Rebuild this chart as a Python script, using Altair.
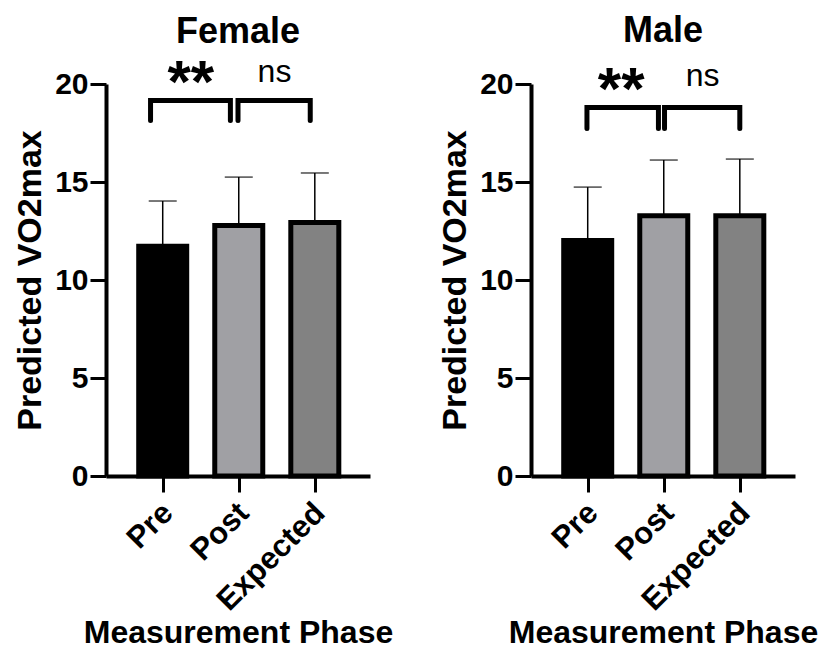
import altair as alt
import pandas as pd

FONT = "Liberation Sans"

phases = ["Pre", "Post", "Expected"]
fills = ["#000000", "#a0a0a4", "#828282"]

female_mean = [11.72, 12.78, 12.93]
female_sd = [2.31, 2.47, 2.53]
male_mean = [12.02, 13.28, 13.28]
male_sd = [2.72, 2.84, 2.89]

sig_labels = ["**", "ns"]

female_brackets = [[-0.16, 0.89], [0.99, 1.94]]
female_bracket_top = 19.16
female_bracket_low = 18.14
female_label_x = [0.37, 1.47]
female_label_y = [19.08, 20.1]

male_brackets = [[-0.01, 0.93], [1.01, 2.0]]
male_bracket_top = 18.80
male_bracket_low = 17.73
male_label_x = [0.44, 1.51]
male_label_y = [18.72, 19.88]

label_expr = "[" + ",".join("'%s'" % p for p in phases) + "][datum.value]"


def xenc(field):
    return alt.X(
        field + ":Q",
        scale=alt.Scale(domain=[-0.68, 2.66], nice=False, zero=False),
        axis=alt.Axis(values=[0, 1, 2], labelExpr=label_expr, labelAngle=-45,
                      labelAlign="right", labelBaseline="middle", labelPadding=16,
                      labelOffset=5, labelFontSize=31,
                      title="Measurement Phase", titlePadding=1, labelOverlap=False,
                      labelFlush=False),
    )


def yenc(field):
    return alt.Y(
        field + ":Q",
        scale=alt.Scale(domain=[0, 20], nice=False),
        axis=alt.Axis(values=[0, 5, 10, 15, 20], format="d", title="Predicted VO2max",
                      titleFontSize=34, titlePadding=7, labelFlush=False,
                      labelFontSize=30),
    )


def panel(title, mean, sd, brackets, top, low, lab_x, lab_y, offset):
    df = pd.DataFrame({
        "idx": list(range(len(phases))),
        "phase": phases,
        "mean": mean,
        "upper": [m + s for m, s in zip(mean, sd)],
        "fill": fills,
    })
    rows = []
    for b, (x1, x2) in enumerate(brackets):
        pts = [(x1, low), (x1, top), (x2, top), (x2, low)]
        for o, (px, py) in enumerate(pts):
            rows.append({"b": b, "o": o, "bx": px, "by": py})
    bdf = pd.DataFrame(rows)
    ldf = pd.DataFrame({"lx": lab_x, "ly": lab_y, "txt": sig_labels})

    err = alt.Chart(df).mark_rule(color="black", strokeWidth=1.5).encode(
        x=xenc("idx"), y=yenc("mean"), y2="upper:Q")
    cap = alt.Chart(df).mark_tick(color="black", orient="horizontal", size=28,
                                  thickness=1.5).encode(x=xenc("idx"), y=yenc("upper"))
    bars = alt.Chart(df).mark_bar(size=48, stroke="black", strokeWidth=5,
                                  orient="vertical").encode(
        x=xenc("idx"), y=yenc("mean"), fill=alt.Fill("fill:N", scale=None))
    br = alt.Chart(bdf).mark_line(color="black", strokeWidth=5, strokeCap="round",
                                  strokeJoin="miter").encode(
        x=xenc("bx"), y=yenc("by"), detail="b:N", order="o:Q")
    stars = alt.Chart(ldf).transform_filter(alt.datum.txt == "**").mark_text(
        font=FONT, fontSize=60, fontWeight="bold", baseline="alphabetic",
        color="black").encode(x=xenc("lx"), y=yenc("ly"), text="txt:N")
    ns = alt.Chart(ldf).transform_filter(alt.datum.txt == "ns").mark_text(
        font=FONT, fontSize=32, fontWeight="normal", baseline="alphabetic",
        color="black").encode(x=xenc("lx"), y=yenc("ly"), text="txt:N")

    return alt.layer(err, cap, bars, br, stars, ns).properties(
        width=264, height=392,
        title=alt.Title(title, fontSize=36, fontWeight="bold", font=FONT, color="black",
                        frame="group", anchor="middle", offset=offset),
    )


female = panel("Female", female_mean, female_sd, female_brackets, female_bracket_top,
               female_bracket_low, female_label_x, female_label_y, 3)
male = panel("Male", male_mean, male_sd, male_brackets, male_bracket_top,
             male_bracket_low, male_label_x, male_label_y, 10)

chart = alt.hconcat(female, male, spacing=45).properties(
    padding={"left": 5, "top": 5, "right": 0, "bottom": 0}
).configure_view(stroke=None).configure_axis(
    grid=False, domainWidth=4, domainColor="black", tickWidth=3, tickColor="black",
    tickSize=16, labelFontSize=28, labelFontWeight="bold", labelFont=FONT,
    labelColor="black", labelPadding=2, titleFontSize=32, titleFontWeight="bold",
    titleFont=FONT, titleColor="black",
)

chart.save("out.html", embed_options={"renderer": "svg", "actions": False})
